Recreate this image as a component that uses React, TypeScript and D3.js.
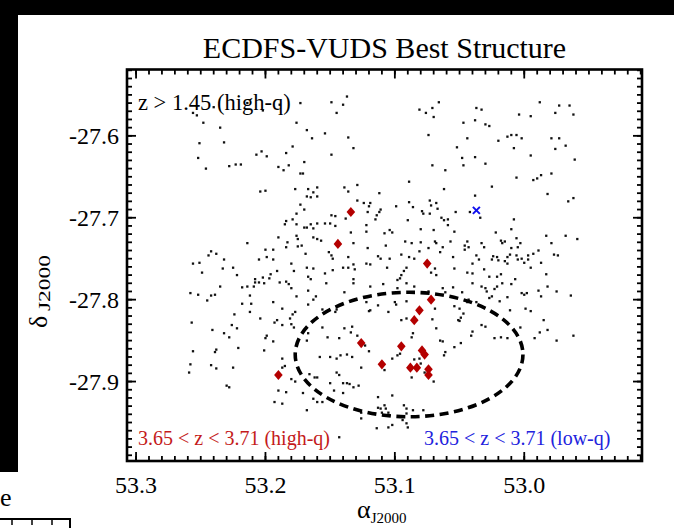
import React from "react";
import * as d3 from "d3";

// Axis ticks (degrees)
const raMajorTicks = [53.3, 53.2, 53.1, 53.0];
const raTickLabels = ["53.3", "53.2", "53.1", "53.0"];
const decMajorTicks = [-27.6, -27.7, -27.8, -27.9];
const decTickLabels = ["-27.6", "-27.7", "-27.8", "-27.9"];

// Spectroscopic sample at z > 1.45 (high-q): [RA, Dec]
const fieldGalaxies: [number, number][] = [
  [53.256,-27.572],[53.253,-27.575],[53.240,-27.565],[53.214,-27.560],[53.202,-27.569],[53.189,-27.562],[53.173,-27.560],
  [53.248,-27.584],[53.235,-27.590],[53.251,-27.609],[53.232,-27.608],[53.252,-27.627],[53.176,-27.584],[53.168,-27.593],
  [53.164,-27.603],[53.154,-27.597],[53.179,-27.613],[53.184,-27.621],[53.207,-27.623],[53.203,-27.619],[53.199,-27.625],
  [53.149,-27.623],[53.149,-27.559],[53.145,-27.572],[53.140,-27.562],[53.137,-27.552],[53.136,-27.602],[53.132,-27.615],
  [53.081,-27.568],[53.076,-27.572],[53.071,-27.566],[53.066,-27.559],[53.070,-27.577],[53.074,-27.599],[53.037,-27.566],
  [53.033,-27.568],[53.047,-27.584],[53.038,-27.581],[53.030,-27.586],[53.027,-27.588],[53.044,-27.603],[53.052,-27.614],
  [53.048,-27.627],[53.038,-27.626],[53.004,-27.574],[52.995,-27.576],[52.988,-27.559],[52.976,-27.572],[52.973,-27.563],
  [52.965,-27.563],[52.962,-27.574],[53.020,-27.606],[53.013,-27.601],[53.010,-27.599],[53.006,-27.599],[53.002,-27.603],
  [53.008,-27.615],[52.995,-27.624],[52.979,-27.603],[52.973,-27.603],[52.976,-27.616],[52.968,-27.612],[52.961,-27.629],
  [53.246,-27.640],[53.228,-27.637],[53.223,-27.635],[53.219,-27.635],[53.190,-27.638],[53.186,-27.642],[53.182,-27.636],
  [53.170,-27.632],[53.173,-27.646],[53.171,-27.646],[53.204,-27.668],[53.200,-27.667],[53.177,-27.665],[53.167,-27.665],
  [53.160,-27.663],[53.168,-27.674],[53.165,-27.675],[53.163,-27.669],[53.160,-27.674],[53.173,-27.684],[53.170,-27.690],
  [53.176,-27.695],[53.179,-27.702],[53.184,-27.704],[53.185,-27.708],[53.176,-27.708],[53.170,-27.712],[53.168,-27.712],
  [53.163,-27.713],[53.165,-27.708],[53.160,-27.707],[53.190,-27.724],[53.176,-27.722],[53.175,-27.726],[53.183,-27.730],
  [53.184,-27.736],[53.175,-27.735],[53.172,-27.734],[53.163,-27.724],[53.160,-27.726],[53.214,-27.731],[53.200,-27.739],
  [53.194,-27.739],[53.205,-27.751],[53.199,-27.748],[53.194,-27.751],[53.169,-27.744],[53.242,-27.741],[53.238,-27.744],
  [53.244,-27.746],[53.232,-27.751],[53.256,-27.756],[53.251,-27.755],[53.249,-27.767],[53.233,-27.762],[53.225,-27.761],
  [53.222,-27.770],[53.180,-27.756],[53.178,-27.765],[53.168,-27.761],[53.163,-27.762],[53.191,-27.765],[53.202,-27.773],
  [53.196,-27.769],[53.197,-27.774],[53.208,-27.775],[53.208,-27.779],[53.205,-27.779],[53.201,-27.780],[53.189,-27.779],
  [53.184,-27.778],[53.182,-27.781],[53.180,-27.786],[53.167,-27.772],[53.165,-27.775],[53.214,-27.784],[53.218,-27.785],
  [53.209,-27.784],[53.235,-27.784],[53.258,-27.792],[53.252,-27.794],[53.242,-27.795],[53.239,-27.794],[53.212,-27.795],
  [53.176,-27.796],[53.167,-27.789],[53.161,-27.796],
  [53.071,-27.636],[53.061,-27.642],[53.089,-27.656],[53.129,-27.660],[53.139,-27.663],[53.136,-27.668],[53.112,-27.670],
  [53.062,-27.665],[53.129,-27.679],[53.124,-27.682],[53.119,-27.682],[53.120,-27.686],[53.111,-27.690],[53.112,-27.693],
  [53.114,-27.697],[53.115,-27.702],[53.121,-27.693],[53.099,-27.686],[53.089,-27.681],[53.086,-27.687],[53.073,-27.679],
  [53.068,-27.682],[53.067,-27.689],[53.072,-27.685],[53.079,-27.692],[53.078,-27.695],[53.073,-27.695],[53.064,-27.700],
  [53.062,-27.703],[53.059,-27.702],[53.053,-27.693],[53.090,-27.703],[53.149,-27.697],[53.146,-27.698],[53.150,-27.707],
  [53.154,-27.707],[53.138,-27.701],[53.134,-27.718],[53.146,-27.710],[53.122,-27.709],[53.122,-27.717],[53.104,-27.715],
  [53.108,-27.719],[53.102,-27.718],[53.080,-27.714],[53.070,-27.715],[53.059,-27.709],[53.054,-27.717],[53.157,-27.728],
  [53.132,-27.731],[53.151,-27.742],[53.149,-27.746],[53.148,-27.750],[53.121,-27.737],[53.107,-27.734],[53.092,-27.729],
  [53.087,-27.731],[53.080,-27.730],[53.074,-27.737],[53.069,-27.729],[53.068,-27.731],[53.063,-27.736],[53.057,-27.729],
  [53.113,-27.747],[53.111,-27.750],[53.104,-27.750],[53.095,-27.745],[53.089,-27.748],[53.085,-27.750],[53.081,-27.741],
  [53.065,-27.742],[53.136,-27.748],[53.122,-27.756],[53.119,-27.757],[53.132,-27.757],[53.136,-27.761],[53.140,-27.761],
  [53.131,-27.763],[53.148,-27.764],[53.106,-27.761],[53.154,-27.768],[53.132,-27.775],[53.069,-27.762],[53.072,-27.767],
  [53.068,-27.770],[53.093,-27.765],[53.095,-27.770],[53.096,-27.774],[53.098,-27.776],[53.091,-27.761],[53.055,-27.748],
  [53.054,-27.762],[53.063,-27.786],[53.061,-27.791],[53.055,-27.785],[53.153,-27.780],[53.132,-27.780],[53.119,-27.784],
  [53.109,-27.781],[53.139,-27.791],[53.098,-27.786],[53.091,-27.780],[53.085,-27.784],[53.074,-27.790],
  [53.047,-27.636],[53.030,-27.634],[53.006,-27.651],[52.993,-27.654],[52.990,-27.652],[52.987,-27.648],[52.979,-27.646],
  [53.025,-27.662],[53.038,-27.673],[52.982,-27.671],[52.966,-27.680],[52.962,-27.676],[53.042,-27.693],[53.034,-27.700],
  [53.008,-27.702],[53.010,-27.714],[53.022,-27.718],[53.044,-27.729],[53.046,-27.734],[53.046,-27.739],[53.043,-27.736],
  [53.033,-27.731],[53.031,-27.736],[53.018,-27.728],[53.015,-27.729],[53.017,-27.731],[53.006,-27.725],[53.003,-27.731],
  [53.010,-27.737],[53.005,-27.736],[52.983,-27.722],[52.968,-27.722],[52.959,-27.726],[52.979,-27.731],[53.037,-27.746],
  [53.035,-27.751],[53.025,-27.751],[53.024,-27.747],[53.021,-27.748],[53.020,-27.752],[53.015,-27.753],[53.013,-27.748],
  [53.011,-27.745],[53.006,-27.746],[53.005,-27.751],[53.002,-27.750],[52.997,-27.746],[52.997,-27.751],[52.993,-27.744],
  [52.989,-27.740],[53.000,-27.755],[53.013,-27.756],[52.987,-27.755],[52.977,-27.745],[52.974,-27.746],[53.040,-27.756],
  [52.995,-27.761],[53.031,-27.763],[53.044,-27.767],[53.040,-27.768],[53.018,-27.769],[53.021,-27.772],[53.027,-27.772],
  [53.007,-27.775],[52.983,-27.769],[53.040,-27.780],[53.017,-27.780],[53.010,-27.781],[53.033,-27.784],[53.030,-27.786],
  [53.029,-27.790],[53.023,-27.787],[53.021,-27.784],[52.982,-27.784],[52.989,-27.789],[53.002,-27.792],[53.000,-27.794],
  [52.998,-27.792],[53.013,-27.797],[53.025,-27.796],[52.975,-27.790],[52.987,-27.796],[52.964,-27.795],[53.048,-27.791],
  [53.043,-27.800],[53.027,-27.798],[52.962,-27.844],
  [53.257,-27.828],[53.256,-27.863],[53.258,-27.879],[53.259,-27.889],[53.245,-27.801],[53.238,-27.861],[53.239,-27.864],
  [53.242,-27.880],[53.238,-27.884],[53.241,-27.837],[53.232,-27.841],[53.226,-27.831],[53.222,-27.835],[53.224,-27.818],
  [53.228,-27.846],[53.221,-27.859],[53.225,-27.883],[53.230,-27.905],[53.228,-27.907],[53.218,-27.805],[53.211,-27.805],
  [53.212,-27.815],
  [53.194,-27.803],[53.187,-27.811],[53.163,-27.800],[53.167,-27.806],[53.177,-27.815],[53.179,-27.818],[53.181,-27.823],
  [53.191,-27.825],[53.193,-27.828],[53.187,-27.831],[53.204,-27.823],[53.199,-27.844],[53.200,-27.847],[53.194,-27.851],
  [53.201,-27.862],[53.178,-27.834],[53.180,-27.830],[53.167,-27.841],[53.168,-27.850],[53.156,-27.812],[53.145,-27.812],
  [53.146,-27.815],[53.122,-27.803],[53.120,-27.814],[53.119,-27.813],[53.113,-27.807],[53.105,-27.815],[53.100,-27.803],
  [53.099,-27.806],[53.091,-27.802],[53.095,-27.825],[53.091,-27.823],[53.087,-27.846],[53.086,-27.841],[53.071,-27.824],
  [53.069,-27.811],[53.068,-27.835],[53.156,-27.834],[53.152,-27.846],[53.143,-27.847],[53.139,-27.835],[53.133,-27.833],
  [53.134,-27.840],[53.129,-27.844],[53.120,-27.863],[53.123,-27.856],[53.158,-27.870],[53.150,-27.870],[53.145,-27.872],
  [53.142,-27.868],[53.137,-27.867],[53.133,-27.870],[53.126,-27.883],[53.108,-27.886],[53.102,-27.872],[53.098,-27.868],
  [53.096,-27.866],[53.081,-27.872],[53.080,-27.878],[53.085,-27.873],[53.077,-27.889],[53.070,-27.900],[53.187,-27.872],
  [53.185,-27.881],[53.187,-27.883],[53.180,-27.897],[53.190,-27.911],[53.184,-27.913],[53.193,-27.925],[53.187,-27.927],
  [53.177,-27.900],[53.171,-27.914],[53.166,-27.891],[53.162,-27.895],[53.160,-27.895],[53.163,-27.921],[53.160,-27.925],
  [53.156,-27.925],[53.168,-27.935],[53.150,-27.902],[53.145,-27.889],[53.143,-27.892],[53.147,-27.911],[53.140,-27.902],
  [53.137,-27.902],[53.135,-27.903],[53.132,-27.907],[53.128,-27.905],[53.140,-27.914],[53.113,-27.919],[53.126,-27.938],
  [53.108,-27.929],[53.107,-27.933],[53.110,-27.938],[53.105,-27.938],[53.102,-27.917],[53.093,-27.929],[53.091,-27.933],
  [53.091,-27.939],[53.114,-27.957],[53.102,-27.953],[53.094,-27.947],[53.086,-27.935],[53.078,-27.935],[53.143,-27.968],
  [53.090,-27.956],[53.126,-27.945],[53.105,-27.956],[53.091,-27.951],[53.113,-27.932],[53.111,-27.933],[53.104,-27.941],
  [53.087,-27.895],
  [53.054,-27.808],[53.050,-27.811],[53.049,-27.822],[53.051,-27.825],[53.050,-27.826],[53.047,-27.817],[53.044,-27.803],
  [53.033,-27.831],[53.030,-27.833],[53.040,-27.839],[53.041,-27.844],[53.065,-27.850],[53.063,-27.851],[53.054,-27.858],
  [53.049,-27.853],[53.061,-27.864],[53.062,-27.868],[53.037,-27.803],[53.019,-27.802],[53.011,-27.813],[52.999,-27.811],
  [52.995,-27.814],[53.003,-27.834],[52.985,-27.825],[52.988,-27.840],[52.982,-27.837],[52.975,-27.850],[52.992,-27.847],
  [53.023,-27.847],[53.018,-27.846],[53.013,-27.847],
];

// Structure members, 3.65 < z < 3.71 (high-q)
const highQMembers: [number, number][] = [
  [53.134,-27.693],[53.144,-27.732],[53.075,-27.756],[53.072,-27.800],[53.081,-27.813],[53.085,-27.825],
  [53.126,-27.853],[53.095,-27.857],[53.079,-27.862],[53.077,-27.867],[53.110,-27.879],[53.088,-27.883],
  [53.083,-27.883],[53.074,-27.885],[53.074,-27.892],[53.190,-27.892],
];

// Structure members, 3.65 < z < 3.71 (low-q)
const lowQMembers: [number, number][] = [[53.037, -27.691]];

// Extent of the structure: centre and half-axes in degrees (RA, Dec)
const structureCenter: [number, number] = [53.089, -27.867];
const structureHalfAxes: [number, number] = [0.088, 0.076];

const SERIF = "'Liberation Serif', 'Times New Roman', Times, serif";

export default function App() {
  const W = 674;
  const H = 528;
  const left = 127, right = 642, top = 69.5, bottom = 461;

  const x = d3.scaleLinear().domain([53.307, 52.909]).range([left, right]);
  const y = d3.scaleLinear().domain([-27.997, -27.519]).range([bottom, top]);

  const raMinor = d3.range(5291, 5331).map((i) => i / 100);
  const decMinor = d3.range(-2799, -2751).map((i) => i / 100);
  const majorLen = 9;
  const minorLen = 5;

  const [cra, cdec] = structureCenter;
  const ecx = x(cra);
  const ecy = y(cdec);
  const erx = Math.abs(x(cra + structureHalfAxes[0]) - ecx);
  const ery = Math.abs(y(cdec + structureHalfAxes[1]) - ecy);

  const diamond = (w: number, h: number) => `M0,${-h}L${w},0L0,${h}L${-w},0Z`;

  return (
    <svg
      width={W}
      height={H}
      viewBox={`0 0 ${W} ${H}`}
      style={{ position: "absolute", left: 0, top: 0, display: "block" }}
    >
      <rect x={0} y={0} width={W} height={H} fill="#ffffff" />

      {/* dark border of the page */}
      <rect x={0} y={0} width={W} height={15} fill="#000" />
      <rect x={0} y={0} width={18} height={472} fill="#000" />

      {/* neighbouring panel fragment */}
      <text x={0} y={506} fontFamily={SERIF} fontSize={26} fill="#000">e</text>
      <path d="M0,519H70V528" fill="none" stroke="#000" strokeWidth={2} />
      {[12, 32, 52].map((t) => (
        <line key={t} x1={t} x2={t} y1={519} y2={525} stroke="#000" strokeWidth={1.5} />
      ))}

      {/* title */}
      <text x={(left + right) / 2} y={58} textAnchor="middle" fontFamily={SERIF} fontSize={30} fill="#000">
        ECDFS-VUDS Best Structure
      </text>

      {/* field galaxies */}
      <g fill="#111">
        {fieldGalaxies.map(([ra, dec], i) => (
          <rect key={i} x={x(ra) - 1.15} y={y(dec) - 1.15} width={2.3} height={2.3} />
        ))}
      </g>

      {/* structure outline */}
      <ellipse cx={ecx} cy={ecy} rx={erx} ry={ery} fill="none" stroke="#000" strokeWidth={3.6} strokeDasharray="9 5.5" />

      {/* high-q members */}
      <g fill="#b40000">
        {highQMembers.map(([ra, dec], i) => (
          <path key={i} d={diamond(4.3, 5.1)} transform={`translate(${x(ra)},${y(dec)})`} />
        ))}
      </g>

      {/* low-q members */}
      <g stroke="#1010ee" strokeWidth={2}>
        {lowQMembers.map(([ra, dec], i) => (
          <path key={i} d="M-3.5,-3.5L3.5,3.5M-3.5,3.5L3.5,-3.5" transform={`translate(${x(ra)},${y(dec)})`} />
        ))}
      </g>

      {/* in-panel labels */}
      <text x={138} y={110} fontFamily={SERIF} fontSize={22.5} fill="#000">z &gt; 1.45 (high-q)</text>
      <text x={138} y={445} fontFamily={SERIF} fontSize={20} fill="#c41a1a">3.65 &lt; z &lt; 3.71 (high-q)</text>
      <text x={424} y={445} fontFamily={SERIF} fontSize={20} fill="#2222dd">3.65 &lt; z &lt; 3.71 (low-q)</text>

      {/* ticks on all four sides */}
      <g stroke="#000" strokeWidth={1.8}>
        {raMinor.map((v) => (
          <g key={`rm${v}`}>
            <line x1={x(v)} x2={x(v)} y1={bottom} y2={bottom - minorLen} />
            <line x1={x(v)} x2={x(v)} y1={top} y2={top + minorLen} />
          </g>
        ))}
        {raMajorTicks.map((v) => (
          <g key={`rM${v}`}>
            <line x1={x(v)} x2={x(v)} y1={bottom} y2={bottom - majorLen} />
            <line x1={x(v)} x2={x(v)} y1={top} y2={top + majorLen} />
          </g>
        ))}
        {decMinor.map((v) => (
          <g key={`dm${v}`}>
            <line x1={left} x2={left + minorLen} y1={y(v)} y2={y(v)} />
            <line x1={right} x2={right - minorLen} y1={y(v)} y2={y(v)} />
          </g>
        ))}
        {decMajorTicks.map((v) => (
          <g key={`dM${v}`}>
            <line x1={left} x2={left + majorLen} y1={y(v)} y2={y(v)} />
            <line x1={right} x2={right - majorLen} y1={y(v)} y2={y(v)} />
          </g>
        ))}
      </g>

      {/* frame */}
      <rect x={left} y={top} width={right - left} height={bottom - top} fill="none" stroke="#000" strokeWidth={2.6} />

      {/* tick labels */}
      {raMajorTicks.map((v, i) => (
        <text key={`rl${v}`} x={x(v)} y={493} textAnchor="middle" fontFamily={SERIF} fontSize={24} fill="#000">
          {raTickLabels[i]}
        </text>
      ))}
      {decMajorTicks.map((v, i) => (
        <text key={`dl${v}`} x={119} y={y(v) + 8} textAnchor="end" fontFamily={SERIF} fontSize={24} fill="#000">
          {decTickLabels[i]}
        </text>
      ))}

      {/* axis titles */}
      <text x={357} y={518} fontFamily={SERIF} fontSize={26} fill="#000">
        α<tspan fontSize={15} dy={5}>J2000</tspan>
      </text>
      <text transform="translate(47,328) rotate(-90)" fontFamily={SERIF} fontSize={26} fill="#000">δ</text>
      <text
        transform="translate(50,311) rotate(-90)"
        fontFamily={SERIF}
        fontSize={17}
        fill="#000"
        textLength={56}
        lengthAdjust="spacingAndGlyphs"
      >
        J2000
      </text>
    </svg>
  );
}
